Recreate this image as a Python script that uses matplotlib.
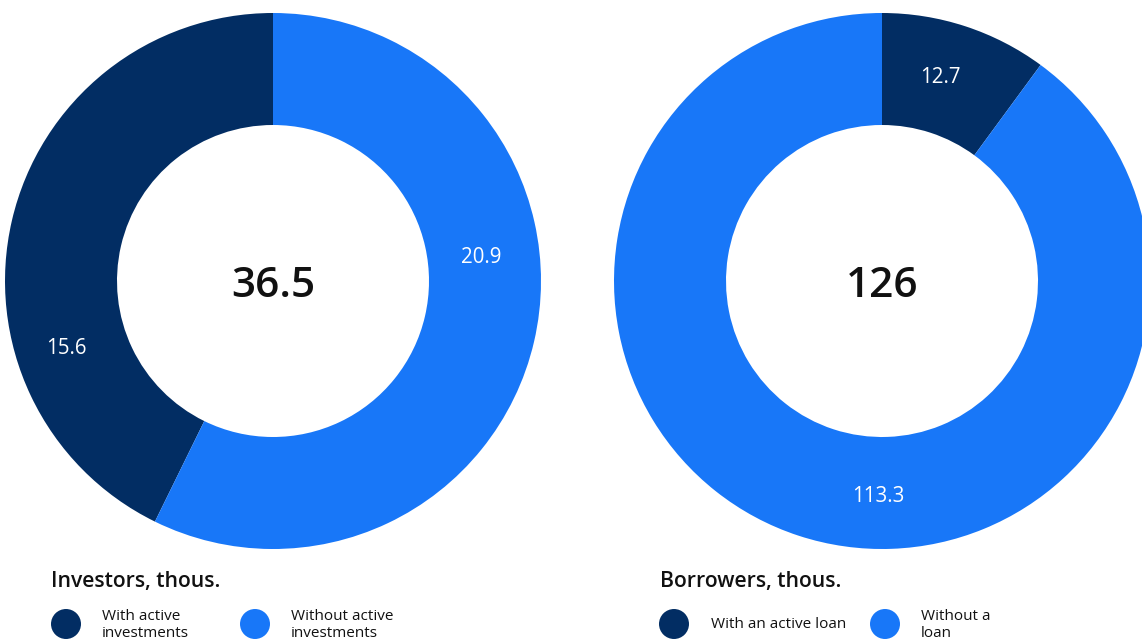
import numpy as np
import matplotlib
matplotlib.use("Agg")
import matplotlib.pyplot as plt
from matplotlib.patches import Circle

plt.rcParams["font.family"] = ["Open Sans", "DejaVu Sans"]

# Data
investor_labels = ["With active\ninvestments", "Without active\ninvestments"]
investor_values = [15.6, 20.9]
investor_total = "36.5"
investor_title = "Investors, thous."

borrower_labels = ["With an active loan", "Without a\nloan"]
borrower_values = [12.7, 113.3]
borrower_total = "126"
borrower_title = "Borrowers, thous."

DARK = "#022D63"
LIGHT = "#1877F8"

W, H = 1142, 642
fig = plt.figure(figsize=(W / 100, H / 100), dpi=100)
ax = fig.add_axes([0, 0, 1, 1])

DIGIT = 0.357  # half the digit height, in em


def donut(values, total, cx, cy, counterclock, label_pos):
    R, r_in = 268, 156
    wedges, _ = ax.pie(values, colors=[DARK, LIGHT], startangle=90,
                       counterclock=counterclock, radius=R, center=(cx, cy),
                       wedgeprops=dict(width=R - r_in, linewidth=0))
    lab_pt = 14.8
    for w, v, (f, lr) in zip(wedges, values, label_pos):
        t1, t2 = w.theta1, w.theta2
        if counterclock:
            a = np.deg2rad(t1 + f * (t2 - t1))
        else:
            a = np.deg2rad(t2 - f * (t2 - t1))
        ax.text(cx + lr * np.cos(a),
                cy + lr * np.sin(a) - DIGIT * lab_pt * 100 / 72, f"{v:g}",
                color="white", fontsize=lab_pt, fontweight="medium",
                ha="center", va="baseline")
    tot_pt = 30.5
    ax.text(cx, cy - 1 - DIGIT * tot_pt * 100 / 72, total, fontsize=tot_pt,
            fontweight="semibold", ha="center", va="baseline",
            color="#111111")


donut(investor_values, investor_total, 273, H - 281, True,
      [(0.699, 217), (0.597, 209.5)])
donut(borrower_values, borrower_total, 882, H - 281, False,
      [(0.44, 214), (0.447, 213.5)])


def legend(title, labels, x0, circle_xs):
    ax.text(x0, H - 581, title, fontsize=15.2, fontweight="semibold",
            ha="left", va="center", color="#111111")
    for (cx, tx), lab, col in zip(circle_xs, labels, [DARK, LIGHT]):
        ax.add_patch(Circle((cx, H - 624), 15, color=col, lw=0))
        ax.text(tx, H - 625, lab, fontsize=11, ha="left", va="center",
                color="#111111", linespacing=1.15)


legend(investor_title, investor_labels, 51, [(66, 102), (255, 291)])
legend(borrower_title, borrower_labels, 660, [(674, 711), (885, 921)])

ax.set_xlim(0, W)
ax.set_ylim(0, H)
ax.set_aspect("auto")
ax.axis("off")

fig.savefig("out.png", dpi=100, facecolor="white")
